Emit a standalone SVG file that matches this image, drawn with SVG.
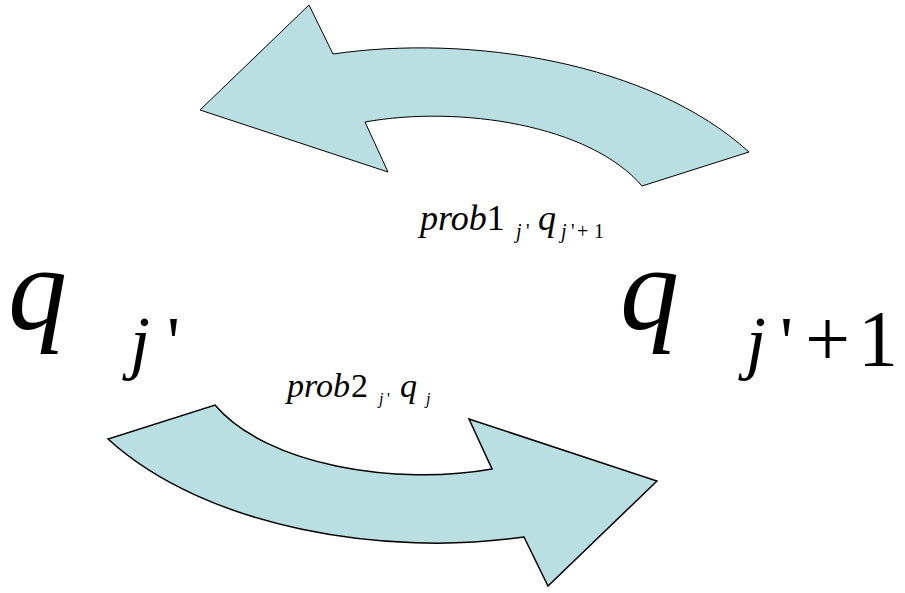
<svg xmlns="http://www.w3.org/2000/svg" width="905" height="593" viewBox="0 0 905 593">
<defs>
<style>
.arrow{fill:#B9DFE3;stroke:#000;stroke-linejoin:miter}
.t{font-family:"Liberation Serif","Times New Roman",serif;fill:#000}
.i{font-style:italic}
</style>
<path id="curvedArrow" d="M200,110 L309,5 L333,54 C470,34 650,62 749,152 L642,186 C590,125 460,105 365,122 L388,172 Z"/>
</defs>
<g id="connectors">
<g id="arrow-top"><use href="#curvedArrow" class="arrow" stroke-width="1"/></g>
<g id="arrow-bottom"><use href="#curvedArrow" class="arrow" stroke-width="1.5" transform="rotate(180 428.5 295.5)"/></g>
</g>
<g id="node-qj">
<text class="t i" x="8" y="329" font-size="118">q</text>
<text class="t i" x="130" y="366" font-size="72">j</text>
<text class="t" x="167" y="366" font-size="72">'</text>
</g>
<g id="node-qj1">
<text class="t i" x="620" y="329" font-size="118">q</text>
<text class="t i" x="746" y="366" font-size="72">j</text>
<text class="t" x="780" y="366" font-size="72">'</text>
<text class="t" x="805" y="366" font-size="80">+</text>
<text class="t" x="858" y="366" font-size="80">1</text>
</g>
<g id="label-prob1">
<text class="t" y="230" font-size="36"><tspan class="i" x="420">prob</tspan><tspan>1</tspan><tspan font-size="20" x="516" y="238" class="i">j</tspan><tspan font-size="20" x="526">'</tspan><tspan x="538" y="230" class="i">q</tspan><tspan font-size="20" x="561" y="238" class="i">j</tspan><tspan font-size="20" x="571">'</tspan><tspan font-size="20" x="577">+</tspan><tspan font-size="20" x="594">1</tspan></text>
</g>
<g id="label-prob2">
<text class="t" y="397" font-size="34"><tspan class="i" x="287">prob</tspan><tspan x="351">2</tspan><tspan font-size="16" x="379" y="404" class="i">j</tspan><tspan font-size="16" x="387">'</tspan><tspan x="400" y="397" class="i">q</tspan><tspan font-size="16" x="426" y="404" class="i">j</tspan></text>
</g>
</svg>
